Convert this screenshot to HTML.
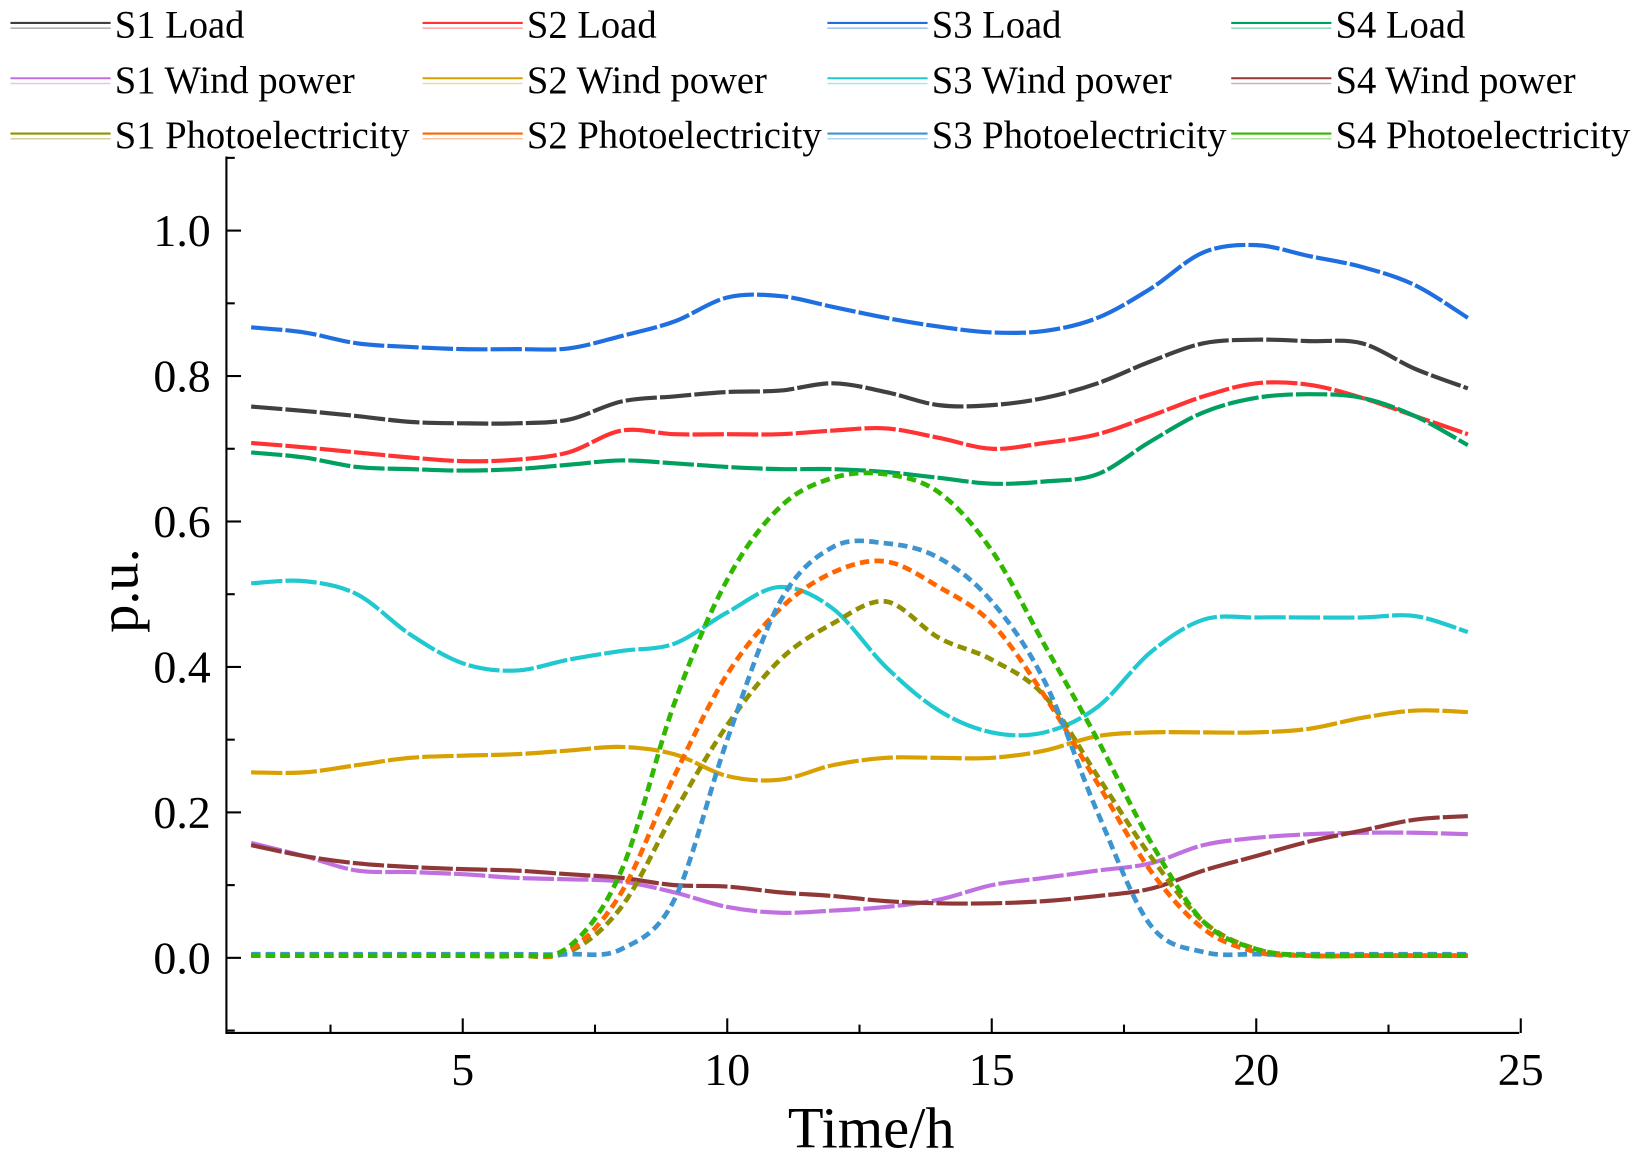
<!DOCTYPE html>
<html><head><meta charset="utf-8"><style>
body{margin:0;background:#fff}
svg{font-family:"Liberation Serif",serif}
</style></head><body>
<svg width="1636" height="1166" xmlns="http://www.w3.org/2000/svg"><g id="c" transform="scale(1.0434)"></g></svg>
<script>
const hours=[1,2,3,4,5,6,7,8,9,10,11,12,13,14,15,16,17,18,19,20,21,22,23,24];
const s1Load=[0.758,0.752,0.745,0.737,0.735,0.735,0.74,0.765,0.772,0.778,0.78,0.79,0.778,0.76,0.76,0.77,0.79,0.82,0.845,0.85,0.848,0.845,0.81,0.783];
const s2Load=[0.708,0.702,0.695,0.688,0.683,0.685,0.695,0.725,0.72,0.72,0.72,0.725,0.728,0.715,0.7,0.708,0.72,0.745,0.772,0.79,0.788,0.77,0.745,0.72];
const s3Load=[0.867,0.86,0.845,0.84,0.837,0.837,0.838,0.855,0.875,0.908,0.91,0.895,0.88,0.868,0.86,0.862,0.88,0.92,0.97,0.98,0.965,0.95,0.925,0.88];
const s4Load=[0.695,0.688,0.675,0.672,0.67,0.672,0.678,0.684,0.68,0.675,0.672,0.672,0.668,0.66,0.652,0.655,0.665,0.71,0.75,0.77,0.775,0.77,0.745,0.705];
const s1Wind=[0.158,0.14,0.12,0.118,0.115,0.11,0.108,0.105,0.09,0.07,0.062,0.065,0.07,0.08,0.1,0.11,0.12,0.13,0.155,0.165,0.17,0.172,0.172,0.17];
const s2Wind=[0.255,0.255,0.265,0.275,0.278,0.28,0.285,0.29,0.28,0.25,0.245,0.265,0.275,0.275,0.275,0.285,0.305,0.31,0.31,0.31,0.315,0.33,0.34,0.338];
const s3Wind=[0.515,0.518,0.5,0.445,0.405,0.395,0.41,0.422,0.432,0.475,0.51,0.48,0.40,0.34,0.31,0.31,0.345,0.42,0.465,0.468,0.468,0.468,0.47,0.448];
const s4Wind=[0.155,0.14,0.13,0.125,0.122,0.12,0.115,0.11,0.10,0.098,0.09,0.085,0.078,0.075,0.075,0.078,0.085,0.095,0.12,0.14,0.16,0.175,0.19,0.195];
const s1PV=[0.003,0.003,0.003,0.003,0.003,0.003,0.008,0.07,0.2,0.32,0.41,0.46,0.49,0.44,0.41,0.36,0.25,0.14,0.05,0.012,0.003,0.003,0.003,0.003];
const s2PV=[0.003,0.003,0.003,0.003,0.003,0.003,0.01,0.09,0.25,0.39,0.48,0.53,0.545,0.51,0.46,0.36,0.24,0.12,0.04,0.008,0.003,0.003,0.003,0.003];
const s3PV=[0.005,0.005,0.005,0.005,0.005,0.005,0.005,0.012,0.08,0.3,0.49,0.565,0.57,0.55,0.49,0.38,0.2,0.045,0.008,0.005,0.005,0.005,0.005,0.005];
const s4PV=[0.003,0.003,0.003,0.003,0.003,0.003,0.015,0.12,0.35,0.52,0.62,0.66,0.665,0.64,0.56,0.43,0.3,0.16,0.05,0.012,0.003,0.003,0.003,0.003];
const xTicks=[5,10,15,20,25];
const yTicks=[0.0,0.2,0.4,0.6,0.8,1.0];
const series=[
 {name:'S1 Load',d:s1Load,c:'#404040',pv:false},
 {name:'S2 Load',d:s2Load,c:'#ff3333',pv:false},
 {name:'S3 Load',d:s3Load,c:'#1f6fe0',pv:false},
 {name:'S4 Load',d:s4Load,c:'#00a060',pv:false},
 {name:'S1 Wind power',d:s1Wind,c:'#c070e0',pv:false},
 {name:'S2 Wind power',d:s2Wind,c:'#d8a000',pv:false},
 {name:'S3 Wind power',d:s3Wind,c:'#20c8d0',pv:false},
 {name:'S4 Wind power',d:s4Wind,c:'#903838',pv:false},
 {name:'S1 Photoelectricity',d:s1PV,c:'#909000',pv:true},
 {name:'S2 Photoelectricity',d:s2PV,c:'#ff6600',pv:true},
 {name:'S3 Photoelectricity',d:s3PV,c:'#3d95d0',pv:true},
 {name:'S4 Photoelectricity',d:s4PV,c:'#30b800',pv:true}];
const NS='http://www.w3.org/2000/svg';
const svg=document.getElementById('c');
const X=v=>190+v*50.7;
const Y=v=>918-v*697;
const L=217,R=1456,B=990,T=150;
function mk(tag,attrs,parent){const e=document.createElementNS(NS,tag);for(const k in attrs)e.setAttribute(k,attrs[k]);(parent||svg).appendChild(e);return e;}
let ax=mk('path',{d:`M${L} ${T}V${B}H${R}`,stroke:'#000','stroke-width':2,fill:'none'});


for(let v=2.5;v<=25;v+=2.5){const major=v%5===0;
 let t=mk('line',{x1:X(v),x2:X(v),y1:B,y2:B-(major?14:8),stroke:'#000','stroke-width':2});
 
 }
xTicks.forEach(v=>{let t=mk('text',{x:X(v),y:1040,'font-size':44,'text-anchor':'middle'});t.textContent=v;
 
 });
for(let v=-0.1;v<=1.1;v+=0.1){const r=Math.round(v*10);const major=r%2===0;
 let t=mk('line',{x1:L,x2:L+(major?14:8),y1:Y(v),y2:Y(v),stroke:'#000','stroke-width':2});
 
 }
yTicks.forEach(v=>{let t=mk('text',{x:202,y:Y(v)+15,'font-size':44,'text-anchor':'end'});t.textContent=v.toFixed(1);
 
 });
let xt=mk('text',{x:835,y:1100,'font-size':56,'text-anchor':'middle'});xt.textContent='Time/h';


let yt=mk('text',{x:0,y:0,'font-size':54,'text-anchor':'middle',transform:'translate(132 566) rotate(-90)'});yt.textContent='p.u.';


function smooth(xs,ys){let p=xs.map((x,i)=>[X(x),Y(ys[i])]);let d=`M${p[0][0]} ${p[0][1]}`;
 for(let i=0;i<p.length-1;i++){const p0=p[i-1]||p[i],p1=p[i],p2=p[i+1],p3=p[i+2]||p2;
  d+=`C${p1[0]+(p2[0]-p0[0])/6} ${p1[1]+(p2[1]-p0[1])/6} ${p2[0]-(p3[0]-p1[0])/6} ${p2[1]-(p3[1]-p1[1])/6} ${p2[0]} ${p2[1]}`;}
 return d;}
series.forEach((s,i)=>{
 let p=mk('path',{d:smooth(hours,s.d),stroke:s.c,'stroke-width':s.pv?4.5:4,fill:'none','stroke-dasharray':s.pv?'9 5':'30 3'});
 
 
 const col=i%4,row=Math.floor(i/4);const lx=[10,405,793,1180][col],ly=[24,77,130][row];
 let g=mk('g',{});
 
 
 mk('line',{x1:lx,x2:lx+96,y1:ly-2,y2:ly-2,stroke:s.c,'stroke-width':2},g);
 mk('line',{x1:lx,x2:lx+96,y1:ly+3,y2:ly+3,stroke:s.c,'stroke-width':1.5,opacity:0.4},g);
 let t=mk('text',{x:lx+100,y:ly+12,'font-size':37},g);t.textContent=s.name;
});
</script>
</body></html>
